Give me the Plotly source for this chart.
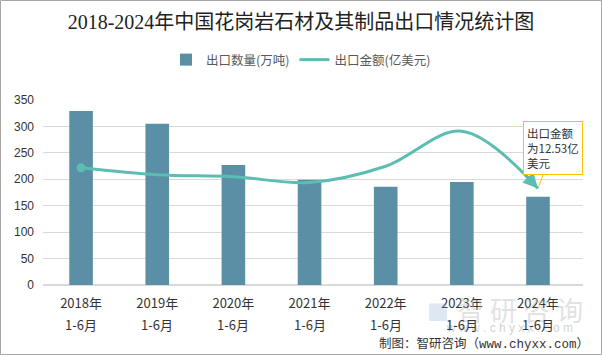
import plotly.graph_objects as go

years = ["2018年", "2019年", "2020年", "2021年", "2022年", "2023年", "2024年"]
period = "1-6月"
volume = [329, 305, 227, 199, 186, 195, 167]          # 出口数量(万吨)
value = [15.2, 14.3, 14.05, 13.3, 15.4, 19.95, 12.53]  # 出口金额(亿美元)

W, H = 602, 355
L, R, T, B = 43, 19, 100, 70
PW, PH = W - L - R, H - T - B

def px_x(p):
    return (p - L) / PW

def px_y(p):
    return (H - B - p) / PH

bar_color = "#5B8FA6"
line_color = "#5CBDB2"
font_cjk = "Noto Sans CJK SC, Liberation Sans, sans-serif"

fig = go.Figure()
fig.add_trace(go.Bar(x=years, y=volume, name="出口数量(万吨)",
                     marker=dict(color=bar_color, line=dict(width=0))))
fig.add_trace(go.Scatter(x=years, y=value, name="出口金额(亿美元)", yaxis="y2",
                         mode="lines", line=dict(color=line_color, width=3, shape="spline", smoothing=1.0)))
fig.add_trace(go.Scatter(x=years[:1], y=value[:1], yaxis="y2", mode="markers", showlegend=False,
                         marker=dict(color=line_color, size=9)))

annotations = []
# watermark (drawn first, underneath)
annotations.append(dict(x=px_x(520), y=px_y(309), xref="paper", yref="paper", text="智 研 咨 询",
                        xanchor="center", yanchor="middle",
                        showarrow=False, font=dict(family=font_cjk, size=27, color="rgba(190,190,190,0.45)")))
annotations.append(dict(x=px_x(438), y=px_y(310), xref="paper", yref="paper", text="■",
                        xanchor="center", yanchor="middle",
                        showarrow=False, font=dict(family=font_cjk, size=22, color="rgba(140,170,210,0.3)")))
annotations.append(dict(x=px_x(509), y=px_y(328), xref="paper", yref="paper", text="w w w . c h y x x . c o m",
                        xanchor="center", yanchor="middle",
                        showarrow=False, font=dict(family="Liberation Sans, sans-serif", size=12, color="rgba(180,180,180,0.6)")))
# second line of category labels
for yv in years:
    annotations.append(dict(x=yv, xref="x", y=px_y(324), yref="paper", text=period, showarrow=False,
                            xanchor="center", yanchor="middle",
                            font=dict(family=font_cjk, size=13, color="#333333")))
# arrow head at line end
annotations.append(dict(x=years[-1], y=value[-1], xref="x", yref="y2", ax=-13, ay=-14,
                        text="", showarrow=True, arrowhead=2, arrowsize=1, arrowwidth=3,
                        arrowcolor=line_color, standoff=0))
# callout
annotations.append(dict(x=years[-1], y=value[-1], xref="x", yref="y2", ax=15, ay=-40,
                        text="出口金额<br>为12.53亿<br>美元", align="left", showarrow=True,
                        arrowhead=0, arrowwidth=1, arrowcolor="#FFC000", standoff=2,
                        bordercolor="#FFC000", borderwidth=1, borderpad=3, bgcolor="white",
                        font=dict(family=font_cjk, size=11.5, color="#333333")))
# footer
annotations.append(dict(x=px_x(591), y=px_y(344), xref="paper", yref="paper", xanchor="right",
                        yanchor="middle",
                        text="制图：智研咨询（www.chyxx.com）", showarrow=False,
                        font=dict(family="Liberation Mono, Noto Sans CJK SC, monospace", size=12.5, color="#333333")))

fig.update_layout(
    width=W, height=H,
    margin=dict(l=L, r=R, t=T, b=B, pad=0, autoexpand=False),
    paper_bgcolor="white", plot_bgcolor="white",
    title=dict(text="2018-2024年中国花岗岩石材及其制品出口情况统计图", x=0.5, xref="container",
               xanchor="center", y=1 - 22 / H, yref="container", yanchor="middle",
               font=dict(family="Liberation Serif, Noto Sans CJK SC, serif", size=20, color="#222222")),
    legend=dict(orientation="h", x=0.5, xref="container", xanchor="center", y=1 - 60 / H,
                yref="container", yanchor="middle", font=dict(family=font_cjk, size=12.5, color="#595959"),
                itemwidth=30, traceorder="normal"),
    bargap=0.69,
    xaxis=dict(type="category", showgrid=False, zeroline=False, showline=False, ticks="",
               automargin=False,
               tickfont=dict(family=font_cjk, size=13, color="#333333"), ticklabelstandoff=9),
    yaxis=dict(range=[0, 350], dtick=50, showgrid=True, gridcolor="#D9D9D9", gridwidth=1,
               zeroline=True, zerolinecolor="#D9D9D9", showline=False, ticks="", automargin=False,
               tickfont=dict(family="Liberation Sans, sans-serif", size=12, color="#333333"),
               ticklabelstandoff=8),
    yaxis2=dict(range=[0, 24], overlaying="y", side="right", visible=False, showgrid=False,
                automargin=False),
    annotations=annotations,
    shapes=[dict(type="rect", xref="paper", yref="paper", x0=px_x(0.5), x1=px_x(601.5),
                 y0=px_y(354.5), y1=px_y(0.5), line=dict(color="#A6A6A6", width=1), layer="above")],
)

fig.write_html("out.html", config={"displayModeBar": False},
               post_script="document.body.style.margin='0';document.body.style.overflow='hidden';")
